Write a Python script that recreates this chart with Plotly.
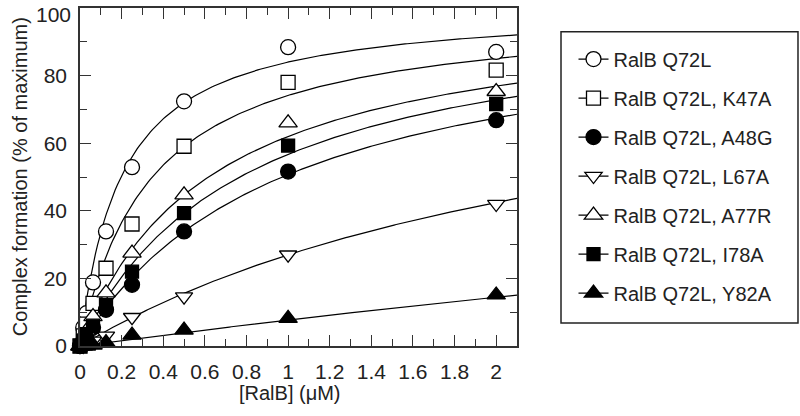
import numpy as np
import plotly.graph_objects as go

# concentrations of RalB (uM)
conc = [0, 0.0156, 0.031, 0.0625, 0.125, 0.25, 0.5, 1, 2]

names = ["RalB Q72L", "RalB Q72L, K47A", "RalB Q72L, A48G", "RalB Q72L, L67A",
         "RalB Q72L, A77R", "RalB Q72L, I78A", "RalB Q72L, Y82A"]

q72l = [0, 5.5, 9.7, 18.8, 33.9, 52.9, 72.4, 88.4, 87.0]
k47a = [0, 3.0, 6.5, 12.6, 23.0, 36.1, 59.1, 78.0, 81.6]
a48g = [0, 1.5, 3.0, 5.5, 10.7, 18.1, 33.9, 51.6, 66.8]
l67a = [-0.5, 0, 0.5, 1.5, 3.0, 8.5, 14.6, 27.0, 42.0]
a77r = [0, 2.0, 4.5, 8.7, 15.7, 27.5, 44.7, 66.0, 75.3]
i78a = [0, 1.5, 3.5, 6.0, 12.1, 22.0, 39.3, 59.3, 71.6]
y82a = [0, 0, 0, 0.3, 1.0, 3.2, 4.7, 8.2, 15.1]

# hyperbolic fit parameters (Bmax, Kd)
bmax = [100.8, 99.8, 100.8, 99.8, 101.2, 101.9, 119.0]
kd = [0.20, 0.346, 0.987, 2.7, 0.632, 0.797, 14.5]

xticks = [0, 0.2, 0.4, 0.6, 0.8, 1, 1.2, 1.4, 1.6, 1.8, 2]
xticklabels = ["0", "0.2", "0.4", "0.6", "0.8", "1", "1.2", "1.4", "1.6", "1.8", "2"]
yticks = [0, 20, 40, 60, 80]

series = [q72l, k47a, a48g, l67a, a77r, i78a, y82a]
symbols = ["circle", "square", "circle", "triangle-down", "triangle-up", "square", "triangle-up"]
fills = ["white", "white", "black", "white", "white", "black", "black"]
sizes = [15, 14, 15, 15, 16, 13, 16]

fig = go.Figure()

xfit = np.linspace(0, 2.1, 200)
for b, k in zip(bmax, kd):
    fig.add_trace(go.Scatter(x=xfit, y=b * xfit / (k + xfit), mode="lines",
                             line=dict(color="black", width=1.2), showlegend=False,
                             hoverinfo="skip"))

for ys, sym, fc, sz in zip(series, symbols, fills, sizes):
    fig.add_trace(go.Scatter(x=conc, y=ys, mode="markers", showlegend=False, cliponaxis=False,
                             marker=dict(symbol=sym, size=sz, color=fc,
                                         line=dict(color="black", width=1.3))))

# legend-only entries (line through marker)
for i, (nm, sym, fc, sz) in enumerate(zip(names, symbols, fills, sizes)):
    fig.add_trace(go.Scatter(x=[None], y=[None], mode="lines+markers", name=nm,
                             legendgroup=str(i),
                             line=dict(color="black", width=1.2),
                             marker=dict(symbol=sym, size=sz, color=fc,
                                         line=dict(color="black", width=1.3))))

axfont = dict(family="Liberation Sans, Arial", size=21, color="#222")
common = dict(showline=True, linecolor="#333", linewidth=1.5, mirror="ticks",
              ticks="inside", ticklen=11, tickcolor="#333", tickwidth=1.2,
              showgrid=False, zeroline=False, tickfont=axfont, automargin=False,
              ticklabeloverflow="allow")

fig.update_xaxes(range=[0, 2.1], tickmode="array", tickvals=xticks, ticktext=xticklabels,
                 minor=dict(ticks="inside", ticklen=7, dtick=0.1, tick0=0, tickcolor="#333"),
                 ticklabelstandoff=6, **common)
fig.update_yaxes(range=[0, 100], tickmode="array", tickvals=yticks,
                 minor=dict(ticks="inside", ticklen=7, dtick=10, tickcolor="#333"),
                 ticklabelstandoff=7, **common)

# top label sits a little lower than its tick, as in the original
fig.add_annotation(text="100", xref="paper", yref="paper", x=-0.016, y=0.982,
                   xanchor="right", yanchor="middle", showarrow=False, font=axfont)

# axis titles
fig.add_annotation(text="[RalB] (μM)", xref="paper", yref="paper", x=0.48, y=-0.14,
                   yanchor="middle", showarrow=False, font=dict(family="Liberation Sans, Arial", size=20, color="#222"))
fig.add_annotation(text="Complex formation (% of maximum)", xref="paper", yref="paper",
                   x=-0.137, y=0.5, textangle=-90, xanchor="center", showarrow=False,
                   font=dict(family="Liberation Sans, Arial", size=20, color="#222"))

# legend frame
fig.add_shape(type="rect", xref="paper", yref="paper", x0=1.1007, x1=1.643, y0=0.068, y1=0.930,
              line=dict(color="#222", width=1.5))

fig.update_layout(
    width=800, height=416,
    margin=dict(l=80, r=283, t=8, b=70),
    plot_bgcolor="white", paper_bgcolor="white",
    font=axfont,
    legend=dict(x=1.1293, y=0.9067, xanchor="left", yanchor="top",
                borderwidth=0, tracegroupgap=10, bgcolor="rgba(0,0,0,0)",
                font=dict(family="Liberation Sans, Arial", size=20, color="#222")),
)

fig.write_html("out.html", config={"displayModeBar": False},
               post_script="document.body.style.margin='0';document.body.style.overflow='hidden';")
